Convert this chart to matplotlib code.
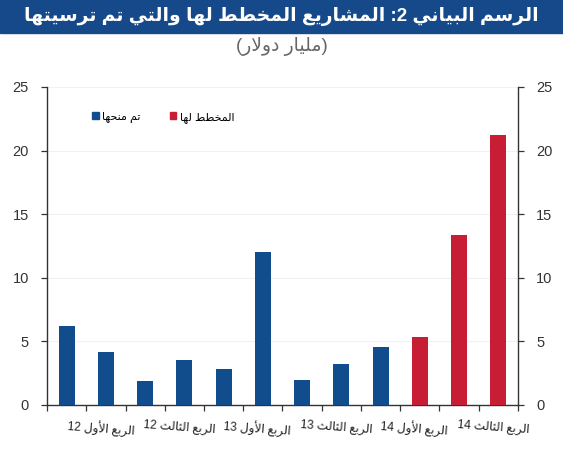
import re
import numpy as np
import matplotlib
matplotlib.use("Agg")
import matplotlib.pyplot as plt
from matplotlib.patches import Rectangle, Patch

# ============================================================
# DATA
# ============================================================

quarters = ["Q1 12", "Q2 12", "Q3 12", "Q4 12",
            "Q1 13", "Q2 13", "Q3 13", "Q4 13",
            "Q1 14", "Q2 14", "Q3 14", "Q4 14"]
values   = [6.2, 4.2, 1.85, 3.5, 2.85, 12.0, 1.95, 3.2, 4.55, 5.35, 13.4, 21.2]
awarded  = [True] * 9 + [False] * 3        # blue = awarded, red = planned

tick_labels = ["الربع الأول 12", "الربع الثالث 12", "الربع الأول 13",
               "الربع الثالث 13", "الربع الأول 14", "الربع الثالث 14"]

TITLE    = "الرسم البياني 2: المشاريع المخطط لها والتي تم ترسيتها"
SUBTITLE = "(مليار دولار)"
LEG_AWARDED = "تم منحها"
LEG_PLANNED = "المخطط لها"

BLUE = "#114d8c"
RED  = "#c81e35"
HEADER_BLUE = "#15498a"

# ============================================================
# Minimal Arabic shaping (no arabic_reshaper / bidi available)
# ============================================================

FORMS = {
    'ا': ('\uFE8D', '\uFE8E'), 'أ': ('\uFE83', '\uFE84'),
    'د': ('\uFEA9', '\uFEAA'), 'ر': ('\uFEAD', '\uFEAE'),
    'و': ('\uFEED', '\uFEEE'),
    'ب': ('\uFE8F', '\uFE90', '\uFE91', '\uFE92'),
    'ت': ('\uFE95', '\uFE96', '\uFE97', '\uFE98'),
    'ث': ('\uFE99', '\uFE9A', '\uFE9B', '\uFE9C'),
    'ح': ('\uFEA1', '\uFEA2', '\uFEA3', '\uFEA4'),
    'خ': ('\uFEA5', '\uFEA6', '\uFEA7', '\uFEA8'),
    'س': ('\uFEB1', '\uFEB2', '\uFEB3', '\uFEB4'),
    'ش': ('\uFEB5', '\uFEB6', '\uFEB7', '\uFEB8'),
    'ط': ('\uFEC1', '\uFEC2', '\uFEC3', '\uFEC4'),
    'ع': ('\uFEC9', '\uFECA', '\uFECB', '\uFECC'),
    'ل': ('\uFEDD', '\uFEDE', '\uFEDF', '\uFEE0'),
    'م': ('\uFEE1', '\uFEE2', '\uFEE3', '\uFEE4'),
    'ن': ('\uFEE5', '\uFEE6', '\uFEE7', '\uFEE8'),
    'ه': ('\uFEE9', '\uFEEA', '\uFEEB', '\uFEEC'),
    'ي': ('\uFEF1', '\uFEF2', '\uFEF3', '\uFEF4'),
}
LAM_ALEF = {'ا': ('\uFEFB', '\uFEFC'), 'أ': ('\uFEF7', '\uFEF8')}


def dual(u):
    return isinstance(u, str) and u in FORMS and len(FORMS[u]) == 4


def shape(s):
    units, i = [], 0
    while i < len(s):
        if s[i] == 'ل' and i + 1 < len(s) and s[i + 1] in LAM_ALEF:
            units.append(("LA", s[i + 1]))
            i += 2
        else:
            units.append(s[i])
            i += 1
    out = []
    for j, u in enumerate(units):
        prev = units[j - 1] if j > 0 else None
        nxt = units[j + 1] if j + 1 < len(units) else None
        jp = dual(prev)
        if isinstance(u, tuple):
            out.append(LAM_ALEF[u[1]][1 if jp else 0])
            continue
        if u not in FORMS:
            out.append(u)
            continue
        f = FORMS[u]
        jn = len(f) == 4 and nxt is not None and (isinstance(nxt, tuple) or nxt in FORMS)
        if jp and jn:
            out.append(f[3])
        elif jp:
            out.append(f[1])
        elif jn:
            out.append(f[2])
        else:
            out.append(f[0])
    return "".join(out)


def ar(s):
    vis = shape(s)[::-1]
    vis = re.sub(r"[0-9]+", lambda m: m.group(0)[::-1], vis)
    return vis.translate(str.maketrans("()", ")("))


plt.rcParams["font.family"] = ["Liberation Sans", "DejaVu Sans"]

# ============================================================
# Plot
# ============================================================

fig = plt.figure(figsize=(5.63, 4.5), dpi=100)
ax = fig.add_axes([0.0835, 0.10, 0.8365, 0.7067])

x = np.arange(len(values))
colors = [BLUE if a else RED for a in awarded]
ax.bar(x, values, width=0.41, color=colors, zorder=3)

ax.set_xlim(-0.5, len(values) - 0.5)
ax.set_ylim(0, 25)
ax.set_yticks(np.arange(0, 26, 5))
ax.grid(axis="y", color="#f1f1f1", linewidth=0.8, zorder=0)

# x: ticks on category boundaries, labels every other quarter
ax.set_xticks(np.arange(-0.5, len(values), 1.0))
ax.set_xticklabels([])
ax.set_xticks(np.arange(len(tick_labels)) * 2 + 0.88, minor=True)
ax.set_xticklabels([ar(t) for t in tick_labels], minor=True, fontsize=8.6,
                   color="#222222", rotation=-4, rotation_mode="anchor",
                   ha="center", va="top")
ax.tick_params(axis="x", which="major", direction="out", length=4,
               color="#333333", width=0.9)
ax.tick_params(axis="x", which="minor", length=0, pad=12)

ax.tick_params(axis="y", direction="out", length=4, width=0.9, color="#333333",
               left=True, right=True, labelleft=True, labelright=True,
               labelsize=10.5, labelcolor="#333333", pad=9)

for side in ["left", "right", "bottom"]:
    ax.spines[side].set_color("#333333")
    ax.spines[side].set_linewidth(1.0)
ax.spines["top"].set_visible(False)

handles = [Patch(color=BLUE), Patch(color=RED)]
ax.legend(handles, [ar(LEG_AWARDED), ar(LEG_PLANNED)], ncol=2,
          loc="center left", bbox_to_anchor=(0.075, 0.905), frameon=False,
          handlelength=0.6, handleheight=0.6, handletextpad=0.3,
          columnspacing=2.6, fontsize=8)

# header band
fig.patches.append(Rectangle((0, 1 - 33 / 450), 1, 33 / 450,
                             transform=fig.transFigure, color=HEADER_BLUE,
                             zorder=0))
fig.text(0.5, 1 - 16 / 450, ar(TITLE), ha="center", va="center",
         color="white", fontsize=13.5, fontweight="bold")
fig.text(0.5, 1 - 47 / 450, ar(SUBTITLE), ha="center", va="center",
         color="#666666", fontsize=13.5)

fig.savefig("out.png", dpi=100)
